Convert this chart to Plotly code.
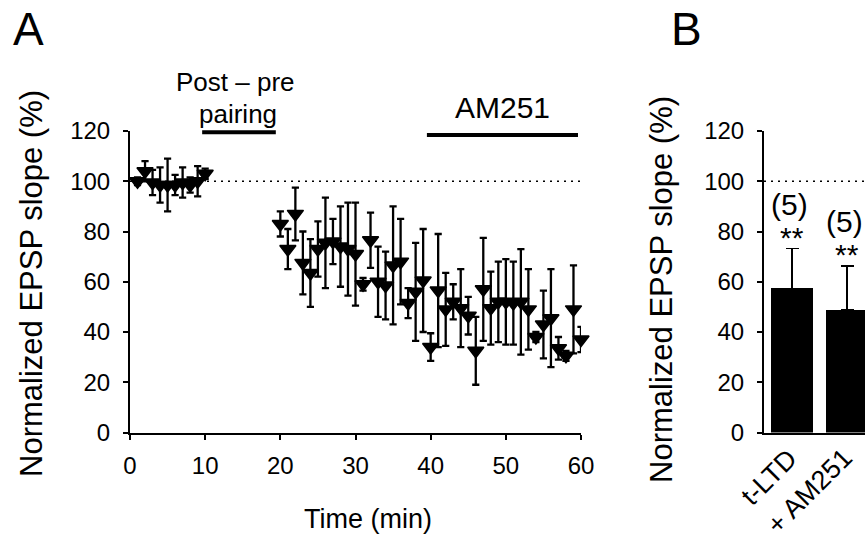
import plotly.graph_objects as go

W, H = 865, 545

# ---------------- Panel A data ----------------
time_base = [1, 2, 3, 4, 5, 6, 7, 8, 9, 10]
epsp_base = [100, 104, 99.5, 98.5, 98.5, 98.5, 99.5, 98.5, 100, 103]
err_base = [1.5, 4, 5, 7, 10.5, 4, 6, 3, 6, 2]

time_post = [20, 21, 22, 23, 24, 25, 26, 27, 28, 29, 30, 31, 32, 33, 34, 35, 36, 37, 38, 39, 40,
             41, 42, 43, 44, 45, 46, 47, 48, 49, 50, 51, 52, 53, 54, 55, 56, 57, 58, 59, 60]
epsp_post = [83, 73, 87, 67.5, 63.5, 73, 75.5, 76, 74, 73, 71, 59, 76.5, 60, 58.5, 66.5, 68, 51.5, 56, 60.5, 34,
             56.5, 49, 52, 49.5, 46.5, 32.5, 57, 49.5, 52, 52, 51.5, 52, 49, 38, 43, 45.5, 33.5, 30.5, 49, 37]
err_post = [5, 8, 10.5, 12.5, 13.5, 11, 18, 9, 16, 18.5, 20.5, 2.5, 11, 14, 13.5, 23.5, 17, 6, 19.5, 20.5, 5.5,
            22.5, 14.5, 7, 15.5, 7.5, 13.5, 20.5, 14.5, 16, 17, 16.5, 21, 16, 2, 13.5, 19.5, 4.5, 2, 17.5, 5]

x_ticks_a = [0, 10, 20, 30, 40, 50, 60]
y_ticks = [0, 20, 40, 60, 80, 100, 120]
baseline_level = 100
pairing_span = [9.6, 19.4]
am251_span = [39.5, 59.6]

# ---------------- Panel B data ----------------
groups = ["t-LTD", "+ AM251"]
bar_vals = [57.4, 48.7]
bar_errs = [15.8, 17.6]
n_cells = ["(5)", "(5)"]
signif = ["**", "**"]

FONT = "Liberation Sans, Arial, sans-serif"

# layout geometry (pixels)
ax_l, ax_r = 130, 581
ax_bottom, ax_top = 432.5, 131
bx_l = 764
xa_range = [0, 60]
xb_range = [-0.51, 1.326]


def px(x):
    return x / W


def py(y):
    return 1 - y / H


def a_x_to_paper(t):
    return px(ax_l + (t - xa_range[0]) / (xa_range[1] - xa_range[0]) * (ax_r - ax_l))


fig = go.Figure()

fig.add_trace(go.Scatter(
    x=time_base + time_post,
    y=epsp_base + epsp_post,
    mode="markers",
    marker=dict(symbol="triangle-down", size=14, color="black", line=dict(color="black", width=1.5)),
    error_y=dict(type="data", array=err_base + err_post, color="black", thickness=2.3, width=3.6),
    xaxis="x", yaxis="y", showlegend=False, cliponaxis=False,
))

fig.add_trace(go.Bar(
    x=[0, 1], y=bar_vals, width=0.76,
    marker=dict(color="black", line=dict(width=0)),
    error_y=dict(type="data", symmetric=False, array=bar_errs, arrayminus=[0, 0],
                 color="black", thickness=1.5, width=6.5),
    xaxis="x2", yaxis="y2", showlegend=False,
))

axis_common = dict(showline=True, linecolor="black", linewidth=2, ticks="outside",
                   ticklen=5, tickwidth=2, tickcolor="black", showgrid=False, zeroline=False,
                   automargin=False,
                   tickfont=dict(family=FONT, size=24, color="black"))

fig.update_layout(
    template="none",
    width=W, height=H,
    margin=dict(l=0, r=0, t=0, b=0, pad=0),
    paper_bgcolor="white", plot_bgcolor="white",
    font=dict(family=FONT, color="black"),
    bargap=0,
    xaxis=dict(domain=[px(ax_l), px(ax_r)], range=xa_range, tickvals=x_ticks_a,
               ticklabelstandoff=6, anchor="y", **axis_common),
    yaxis=dict(domain=[py(ax_bottom), py(ax_top)], range=[0, 120], tickvals=y_ticks,
               ticklabelstandoff=8, anchor="x", **axis_common),
    xaxis2=dict(domain=[px(bx_l), 1.0], range=xb_range, tickvals=[0, 1], showticklabels=False,
                showline=True, linecolor="black", linewidth=2, ticks="",
                showgrid=False, zeroline=False, anchor="y2", automargin=False),
    yaxis2=dict(domain=[py(ax_bottom), py(ax_top)], range=[0, 120], tickvals=y_ticks,
                ticklabelstandoff=8, anchor="x2", **axis_common),
)

dot = "2px,5px"
fig.add_shape(type="line", xref="x", yref="y", x0=xa_range[0], x1=xa_range[1],
              y0=baseline_level, y1=baseline_level, layer="below",
              line=dict(color="black", width=1.5, dash=dot))
fig.add_shape(type="line", xref="x2 domain", yref="y2", x0=0, x1=1,
              y0=baseline_level, y1=baseline_level, layer="below",
              line=dict(color="black", width=1.5, dash=dot))

# treatment bars above panel A
fig.add_shape(type="line", xref="paper", yref="paper",
              x0=a_x_to_paper(pairing_span[0]), x1=a_x_to_paper(pairing_span[1]),
              y0=py(132.3), y1=py(132.3), line=dict(color="black", width=4))
fig.add_shape(type="line", xref="paper", yref="paper",
              x0=a_x_to_paper(am251_span[0]), x1=a_x_to_paper(am251_span[1]),
              y0=py(135), y1=py(135), line=dict(color="black", width=4))

ann = []


def text(x, y, s, size, angle=0):
    ann.append(dict(x=px(x), y=py(y), xref="paper", yref="paper", text=s, showarrow=False,
                    xanchor="center", yanchor="middle", textangle=angle,
                    font=dict(family=FONT, size=size, color="black")))


text(29, 29, "A", 46)
text(686, 29, "B", 46)
text(236, 82, "Post \u2013 pre", 26)
text(238, 114, "pairing", 26)
text(502, 107, "AM251", 30)
text(368, 519, "Time (min)", 27)
text(31, 284, "Normalized EPSP slope (%)", 31, -90)
text(661, 290, "Normalized EPSP slope (%)", 31, -90)

for i, (v, e) in enumerate(zip(bar_vals, bar_errs)):
    ann.append(dict(x=i, y=v + e, xref="x2", yref="y2", text=signif[i], showarrow=False,
                    xanchor="center", yanchor="middle", yshift=11,
                    font=dict(family=FONT, size=30, color="black")))
    ann.append(dict(x=i - 0.04, y=v + e, xref="x2", yref="y2", text=n_cells[i], showarrow=False,
                    xanchor="center", yanchor="middle", yshift=44,
                    font=dict(family=FONT, size=30, color="black")))
    # rotated category labels
    ann.append(dict(x=i, y=py(440), xref="x2", yref="paper", text=groups[i], showarrow=False,
                    xanchor="right", yanchor="top", xshift=14, textangle=-45,
                    font=dict(family=FONT, size=27, color="black")))

fig.update_layout(annotations=ann)

fig.write_html("out.html")
